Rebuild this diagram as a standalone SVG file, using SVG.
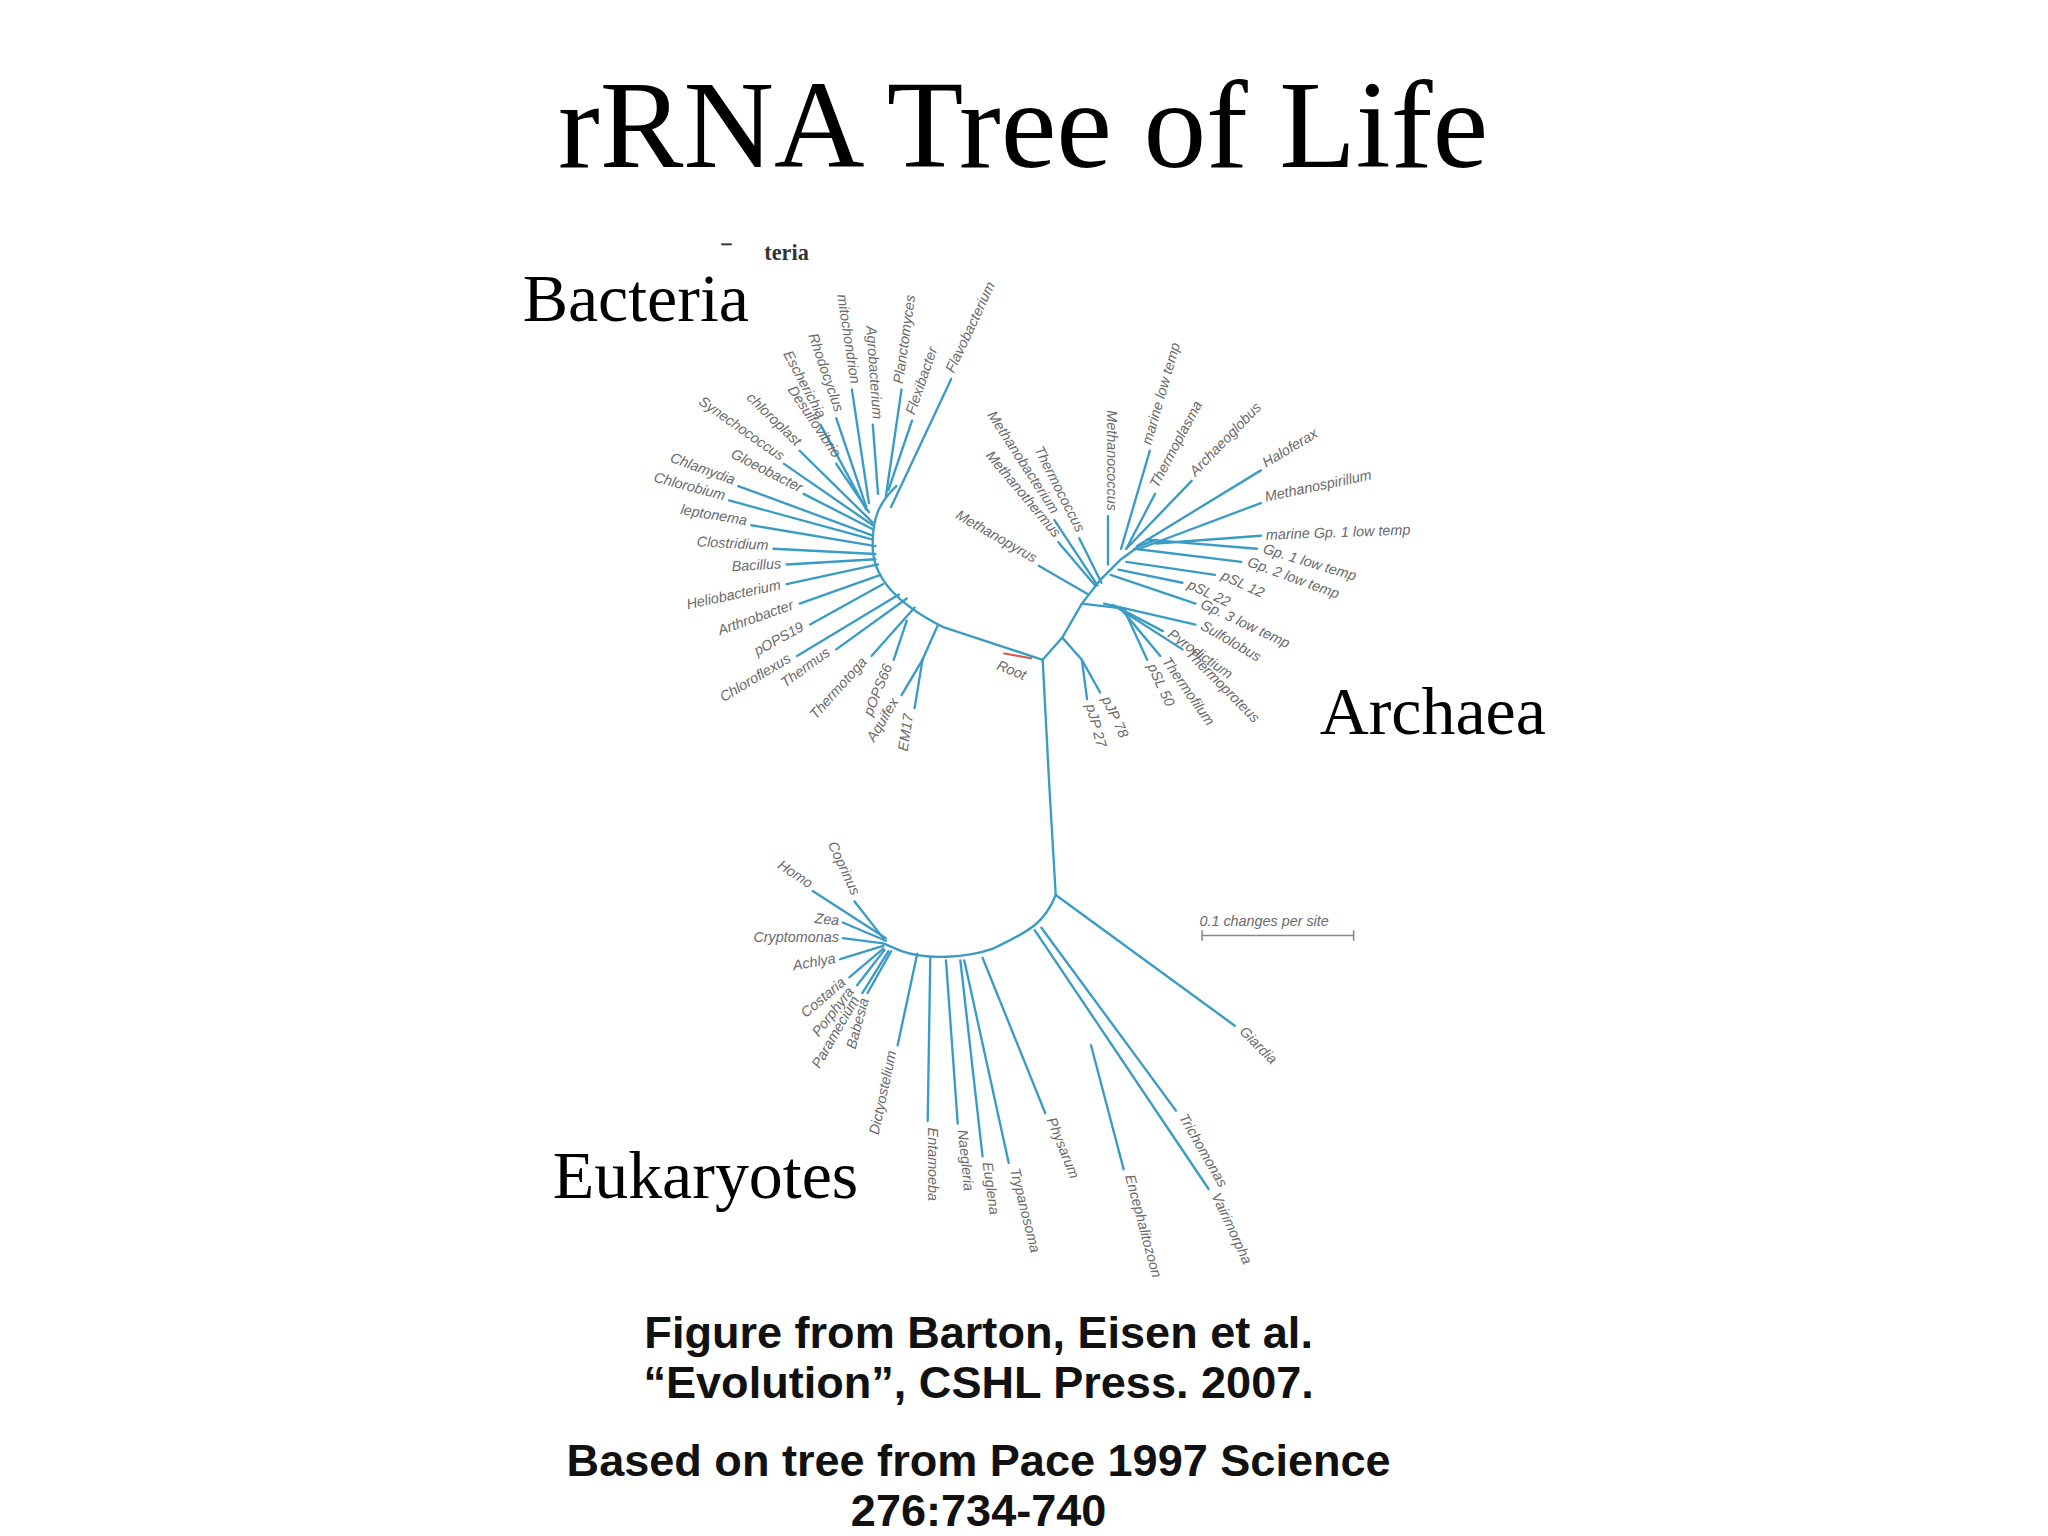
<svg xmlns="http://www.w3.org/2000/svg" width="2048" height="1536" viewBox="0 0 2048 1536">
<style>
.br{stroke:#3a9cc4;stroke-width:1.8;fill:none;stroke-linecap:round}
.lb{font-family:"Liberation Sans",Arial,sans-serif;font-style:italic;font-size:11px;fill:#6a6a6a}
.big{font-family:"Liberation Serif","Times New Roman",serif;fill:#000}
.cap{font-family:"Liberation Sans",Arial,sans-serif;font-weight:bold;font-size:34.5px;fill:#111;text-anchor:middle}
</style>
<rect width="2048" height="1536" fill="#fff"/>
<g transform="scale(1.3066)">
<g id="title"><text class="big" x="783" y="128" font-size="96" text-anchor="middle">rRNA Tree of Life</text></g>
<g id="bacteria-label"><text class="big" x="400" y="246" font-size="52">Bacteria</text>
<text x="585" y="199" font-family="Liberation Serif,serif" font-weight="bold" font-size="17" fill="#333">teria</text>
<line x1="552" y1="187" x2="560" y2="187" stroke="#333" stroke-width="1.5"/></g>
<g id="archaea-label"><text class="big" x="1010" y="562" font-size="52">Archaea</text></g>
<g id="eukaryotes-label"><text class="big" x="423" y="917" font-size="52">Eukaryotes</text></g>

<g id="connectors">
<path class="br" d="M798,505 L722,480 C694,466 666,445 668,415 C668,398 672,385 686,372"/>
<path class="br" d="M798,505 L813,488 L828,462 L842,444 L858,428 L872,418 L885,413"/>
<path class="br" d="M828,462 L862,466 M813,488 L828,505"/>
<path class="br" d="M798,505 L803,600 L808,685 C800,705 790,712 760,726 C740,733 710,735 690,728 L676,722"/>
<line x1="768" y1="500" x2="790" y2="504" stroke="#d9534f" stroke-width="1.5"/>
<line x1="920" y1="716" x2="1036" y2="716" stroke="#888" stroke-width="1.2"/>
<line x1="920" y1="712" x2="920" y2="720" stroke="#888" stroke-width="1.2"/>
<line x1="1036" y1="712" x2="1036" y2="720" stroke="#888" stroke-width="1.2"/>
</g>
<g id="scale"><text class="lb" x="918" y="709" font-style="normal">0.1 changes per site</text></g>
<g id="root"><text class="lb" transform="translate(762,512) rotate(22)">Root</text></g>

<g id="bacteria-leaves">
<line class="br" x1="682" y1="388" x2="728" y2="290"/><text class="lb" transform="translate(730,286) rotate(-65)">Flavobacterium</text>
<line class="br" x1="680" y1="375" x2="698" y2="322"/><text class="lb" transform="translate(700,318) rotate(-71)">Flexibacter</text>
<line class="br" x1="678" y1="380" x2="690" y2="298"/><text class="lb" transform="translate(691,294) rotate(-82)">Planctomyces</text>
<line class="br" x1="672" y1="378" x2="668" y2="325"/><text class="lb" text-anchor="end" transform="translate(668,321) rotate(86)">Agrobacterium</text>
<line class="br" x1="665" y1="385" x2="652" y2="298"/><text class="lb" text-anchor="end" transform="translate(651,294) rotate(81.5)">mitochondrion</text>
<line class="br" x1="663" y1="388" x2="640" y2="320"/><text class="lb" text-anchor="end" transform="translate(639,316) rotate(71)">Rhodocyclus</text>
<line class="br" x1="663" y1="390" x2="628" y2="325"/><text class="lb" text-anchor="end" transform="translate(626,321) rotate(62)">Escherichia</text>
<line class="br" x1="665" y1="392" x2="640" y2="355"/><text class="lb" text-anchor="end" transform="translate(638,351) rotate(56)">Desulfovibrio</text>
<line class="br" x1="668" y1="400" x2="612" y2="345"/><text class="lb" text-anchor="end" transform="translate(609,342) rotate(44)">chloroplast</text>
<line class="br" x1="668" y1="402" x2="600" y2="355"/><text class="lb" fill="#aaa" text-anchor="end" transform="translate(597,353) rotate(35)">Synechococcus</text>
<line class="br" x1="668" y1="405" x2="615" y2="378"/><text class="lb" text-anchor="end" transform="translate(612,377) rotate(27)">Gloeobacter</text>
<line class="br" x1="668" y1="410" x2="565" y2="372"/><text class="lb" text-anchor="end" transform="translate(561,371) rotate(20)">Chlamydia</text>
<line class="br" x1="668" y1="413" x2="558" y2="383"/><text class="lb" text-anchor="end" transform="translate(554,383) rotate(15)">Chlorobium</text>
<line class="br" x1="670" y1="418" x2="575" y2="402"/><text class="lb" text-anchor="end" transform="translate(571,402) rotate(9.6)">leptonema</text>
<line class="br" x1="670" y1="424" x2="592" y2="420"/><text class="lb" text-anchor="end" transform="translate(588,421) rotate(3)">Clostridium</text>
<line class="br" x1="670" y1="428" x2="602" y2="432"/><text class="lb" text-anchor="end" transform="translate(598,435) rotate(-3.4)">Bacillus</text>
<line class="br" x1="672" y1="432" x2="602" y2="447"/><text class="lb" text-anchor="end" transform="translate(598,451) rotate(-12)">Heliobacterium</text>
<line class="br" x1="674" y1="440" x2="612" y2="462"/><text class="lb" text-anchor="end" transform="translate(608,466) rotate(-19.5)">Arthrobacter</text>
<line class="br" x1="676" y1="447" x2="620" y2="478"/><text class="lb" text-anchor="end" transform="translate(616,482) rotate(-29)">pOPS19</text>
<line class="br" x1="688" y1="455" x2="610" y2="502"/><text class="lb" text-anchor="end" transform="translate(606,506) rotate(-31)">Chloroflexus</text>
<line class="br" x1="694" y1="458" x2="640" y2="497"/><text class="lb" text-anchor="end" transform="translate(636,501) rotate(-36)">Thermus</text>
<line class="br" x1="700" y1="465" x2="667" y2="502"/><text class="lb" text-anchor="end" transform="translate(664,507) rotate(-48)">Thermotoga</text>
<line class="br" x1="694" y1="475" x2="684" y2="505"/><text class="lb" text-anchor="end" transform="translate(683,510) rotate(-68)">pOPS66</text>
<line class="br" x1="718" y1="478" x2="706" y2="505"/>
<line class="br" x1="706" y1="505" x2="690" y2="532"/><text class="lb" text-anchor="end" transform="translate(688,537) rotate(-59)">Aquifex</text>
<line class="br" x1="706" y1="505" x2="700" y2="542"/><text class="lb" text-anchor="end" transform="translate(699,547) rotate(-81)">EM17</text>
</g>

<g id="archaea-leaves">
<line class="br" x1="833" y1="455" x2="795" y2="433"/><text class="lb" text-anchor="end" transform="translate(791,431) rotate(30)">Methanopyrus</text>
<line class="br" x1="838" y1="448" x2="810" y2="415"/><text class="lb" text-anchor="end" transform="translate(807,412) rotate(50)">Methanothermus</text>
<line class="br" x1="840" y1="448" x2="807" y2="398"/><text class="lb" text-anchor="end" transform="translate(805,394) rotate(57)">Methanobacterium</text>
<line class="br" x1="843" y1="446" x2="826" y2="412"/><text class="lb" text-anchor="end" transform="translate(824,408) rotate(63)">Thermococcus</text>
<line class="br" x1="848" y1="432" x2="848" y2="395"/><text class="lb" text-anchor="end" transform="translate(847,391) rotate(90)">Methanococcus</text>
<line class="br" x1="858" y1="420" x2="880" y2="345"/><text class="lb" transform="translate(881,341) rotate(-74)">marine low temp</text>
<line class="br" x1="862" y1="420" x2="884" y2="378"/><text class="lb" transform="translate(886,374) rotate(-62)">Thermoplasma</text>
<line class="br" x1="862" y1="420" x2="912" y2="368"/><text class="lb" fill="#999" transform="translate(915,365) rotate(-46)">Archaeoglobus</text>
<line class="br" x1="870" y1="418" x2="965" y2="360"/><text class="lb" transform="translate(969,358) rotate(-31)">Haloferax</text>
<line class="br" x1="872" y1="420" x2="965" y2="385"/><text class="lb" transform="translate(969,384) rotate(-12)">Methanospirillum</text>
<line class="br" x1="885" y1="416" x2="965" y2="410"/><text class="lb" font-style="normal" transform="translate(969,413) rotate(-2)">marine Gp. 1 low temp</text>
<line class="br" x1="878" y1="413" x2="962" y2="420"/><text class="lb" transform="translate(966,423) rotate(17)">Gp. 1 low temp</text>
<line class="br" x1="868" y1="420" x2="950" y2="430"/><text class="lb" transform="translate(954,433) rotate(20)">Gp. 2 low temp</text>
<line class="br" x1="862" y1="430" x2="930" y2="440"/><text class="lb" transform="translate(934,443) rotate(25)">pSL 12</text>
<line class="br" x1="856" y1="436" x2="905" y2="446"/><text class="lb" transform="translate(908,450) rotate(25)">pSL 22</text>
<line class="br" x1="850" y1="440" x2="915" y2="462"/><text class="lb" transform="translate(918,465) rotate(25)">Gp. 3 low temp</text>
<line class="br" x1="845" y1="462" x2="915" y2="478"/><text class="lb" transform="translate(918,481) rotate(30)">Sulfolobus</text>
<line class="br" x1="852" y1="463" x2="890" y2="483"/><text class="lb" transform="translate(893,487) rotate(35)">Pyrodictium</text>
<line class="br" x1="855" y1="465" x2="905" y2="497"/><text class="lb" transform="translate(907,501) rotate(45)">Thermoproteus</text>
<line class="br" x1="858" y1="466" x2="888" y2="502"/><text class="lb" transform="translate(889,506) rotate(55)">Thermofilum</text>
<line class="br" x1="860" y1="466" x2="878" y2="505"/><text class="lb" transform="translate(878,510) rotate(65)">pSL 50</text>
<line class="br" x1="828" y1="505" x2="842" y2="530"/><text class="lb" transform="translate(843,535) rotate(65)">pJP 78</text>
<line class="br" x1="828" y1="505" x2="832" y2="535"/><text class="lb" transform="translate(831,540) rotate(75)">pJP 27</text>
</g>

<g id="eukaryote-leaves">
<line class="br" x1="808" y1="685" x2="945" y2="785"/><text class="lb" transform="translate(948,790) rotate(45)">Giardia</text>
<line class="br" x1="797" y1="710" x2="900" y2="850"/><text class="lb" transform="translate(902,855) rotate(60)">Trichomonas</text>
<line class="br" x1="792" y1="712" x2="925" y2="910"/><text class="lb" transform="translate(927,915) rotate(65)">Vairimorpha</text>
<line class="br" x1="835" y1="800" x2="860" y2="895"/><text class="lb" transform="translate(861,900) rotate(75)">Encephalitozoon</text>
<line class="br" x1="752" y1="733" x2="800" y2="852"/><text class="lb" transform="translate(801,857) rotate(68)">Physarum</text>
<line class="br" x1="738" y1="735" x2="772" y2="890"/><text class="lb" transform="translate(773,895) rotate(76)">Trypanosoma</text>
<line class="br" x1="735" y1="735" x2="752" y2="885"/><text class="lb" transform="translate(752,890) rotate(82)">Euglena</text>
<line class="br" x1="724" y1="735" x2="733" y2="860"/><text class="lb" transform="translate(733,865) rotate(84)">Naegleria</text>
<line class="br" x1="712" y1="733" x2="710" y2="858"/><text class="lb" transform="translate(710,863) rotate(90)">Entamoeba</text>
<line class="br" x1="702" y1="730" x2="687" y2="800"/><text class="lb" text-anchor="end" transform="translate(686,805) rotate(-78)">Dictyostelium</text>
<line class="br" x1="678" y1="718" x2="622" y2="682"/><text class="lb" text-anchor="end" transform="translate(619,680) rotate(33)">Homo</text>
<line class="br" x1="676" y1="718" x2="654" y2="690"/><text class="lb" text-anchor="end" transform="translate(652,686) rotate(65)">Coprinus</text>
<line class="br" x1="678" y1="720" x2="645" y2="706"/><text class="lb" text-anchor="end" transform="translate(642,708) rotate(5)">Zea</text>
<line class="br" x1="676" y1="722" x2="645" y2="718"/><text class="lb" text-anchor="end" transform="translate(642,721)">Cryptomonas</text>
<line class="br" x1="676" y1="724" x2="643" y2="734"/><text class="lb" text-anchor="end" transform="translate(640,737) rotate(-10)">Achlya</text>
<line class="br" x1="676" y1="726" x2="650" y2="748"/><text class="lb" text-anchor="end" transform="translate(648,753) rotate(-40)">Costaria</text>
<line class="br" x1="677" y1="727" x2="656" y2="754"/><text class="lb" fill="#999" text-anchor="end" transform="translate(654,759) rotate(-52)">Porphyra</text>
<line class="br" x1="680" y1="728" x2="660" y2="760"/><text class="lb" text-anchor="end" transform="translate(658,765) rotate(-60)">Paramecium</text>
<line class="br" x1="682" y1="728" x2="664" y2="760"/><text class="lb" text-anchor="end" transform="translate(665,765) rotate(-75)">Babesia</text>
</g>

<g id="caption">
<text class="cap" x="749" y="1032">Figure from Barton, Eisen et al.</text>
<text class="cap" x="749" y="1070">“Evolution”, CSHL Press. 2007.</text>
<text class="cap" x="749" y="1130">Based on tree from Pace 1997 Science</text>
<text class="cap" x="749" y="1168">276:734-740</text>
</g>
</g>
</svg>
